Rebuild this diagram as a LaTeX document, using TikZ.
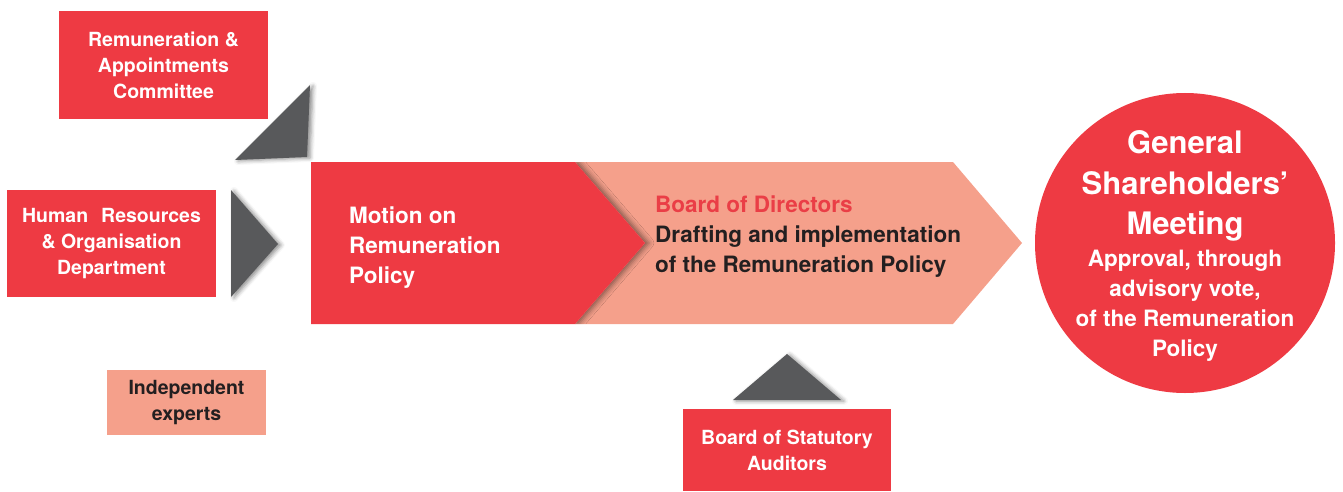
\documentclass[tikz,border=0pt]{standalone}
\usepackage{fontspec}
\setmainfont{TeX Gyre Heros}
\usetikzlibrary{shadows.blur}
\definecolor{remred}{RGB}{238,58,67}
\definecolor{rempink}{RGB}{245,160,139}
\definecolor{remgray}{RGB}{88,89,91}
\definecolor{remdark}{RGB}{35,31,32}
\definecolor{remtitle}{RGB}{234,62,70}
\begin{document}
\begin{tikzpicture}[x=1pt,y=-1pt,
        redbox/.style={fill=remred, text=white, align=center, inner sep=0pt,
          font=\bfseries\fontsize{19.5}{26}\selectfont},
        pinkbox/.style={fill=rempink, text=remdark, align=center, inner sep=0pt,
          font=\bfseries\fontsize{19.5}{26}\selectfont},
        pointer/.style={fill=remgray, blur shadow={shadow xshift=3pt,
          shadow yshift=-1pt, shadow opacity=45, shadow blur radius=4pt}},
        bigtext/.style={align=left, inner sep=0pt, font=\bfseries\fontsize{22.5}{30}\selectfont}]
        \useasboundingbox (0,0) rectangle (1343,492);
        % side boxes
        \node[redbox, minimum width=209, minimum height=108] (rac) at (163.5,65)
          {Remuneration \&\\Appointments\\Committee};
        \node[redbox, minimum width=209, minimum height=107] (hr) at (111.5,243.5)
          {Human\hspace{13pt}Resources\\\& Organisation\\Department};
        \node[pinkbox, minimum width=159, minimum height=65] (experts) at (186.5,402.5)
          {Independent\\experts};
        \node[redbox, minimum width=208, minimum height=82] (auditors) at (787,450)
          {Board of Statutory\\Auditors};
        % pointers
        \fill[pointer] (235,160) -- (310,85) -- (307,157) -- cycle;
        \fill[pointer] (231,190) -- (278,244) -- (231,297) -- cycle;
        \fill[pointer] (733,400) -- (787,354) -- (841,400) -- cycle;
        % chevrons
        \fill[rempink] (575,162) -- (953,162) -- (1022,243) -- (953,324)
          -- (575,324) -- (645,243) -- cycle;
        \begin{scope}
          \clip (575,162) -- (953,162) -- (1022,243) -- (953,324)
            -- (575,324) -- (645,243) -- cycle;
          \fill[remred, blur shadow={shadow xshift=4pt, shadow yshift=0pt,
            shadow opacity=45, shadow blur radius=5pt}]
            (311,162) -- (575,162) -- (645,243) -- (575,324) -- (311,324) -- cycle;
        \end{scope}
        \fill[remred] (311,162) -- (575,162) -- (645,243) -- (575,324) -- (311,324) -- cycle;
        \node[bigtext, text=white, anchor=west] (motion) at (349,248)
          {Motion on\\Remuneration\\Policy};
        \node[bigtext, text=remdark, anchor=west] (board) at (655,237)
          {\textcolor{remtitle}{Board of Directors}\\Drafting and implementation\\of the Remuneration Policy};
        % meeting
        \node[circle, fill=remred, minimum size=300, inner sep=0pt] (gsm) at (1185,243) {};
        \node[align=center, text=white, inner sep=0pt,
          font=\bfseries\fontsize{31}{40.5}\selectfont] (gsmtitle) at (1185,186)
          {General\\Shareholders’\\Meeting};
        \node[align=center, text=white, inner sep=0pt,
          font=\bfseries\fontsize{22.5}{30}\selectfont] (gsmvote) at (1185,306)
          {Approval, through\\advisory vote,\\of the Remuneration\\Policy};
\end{tikzpicture}
\end{document}
